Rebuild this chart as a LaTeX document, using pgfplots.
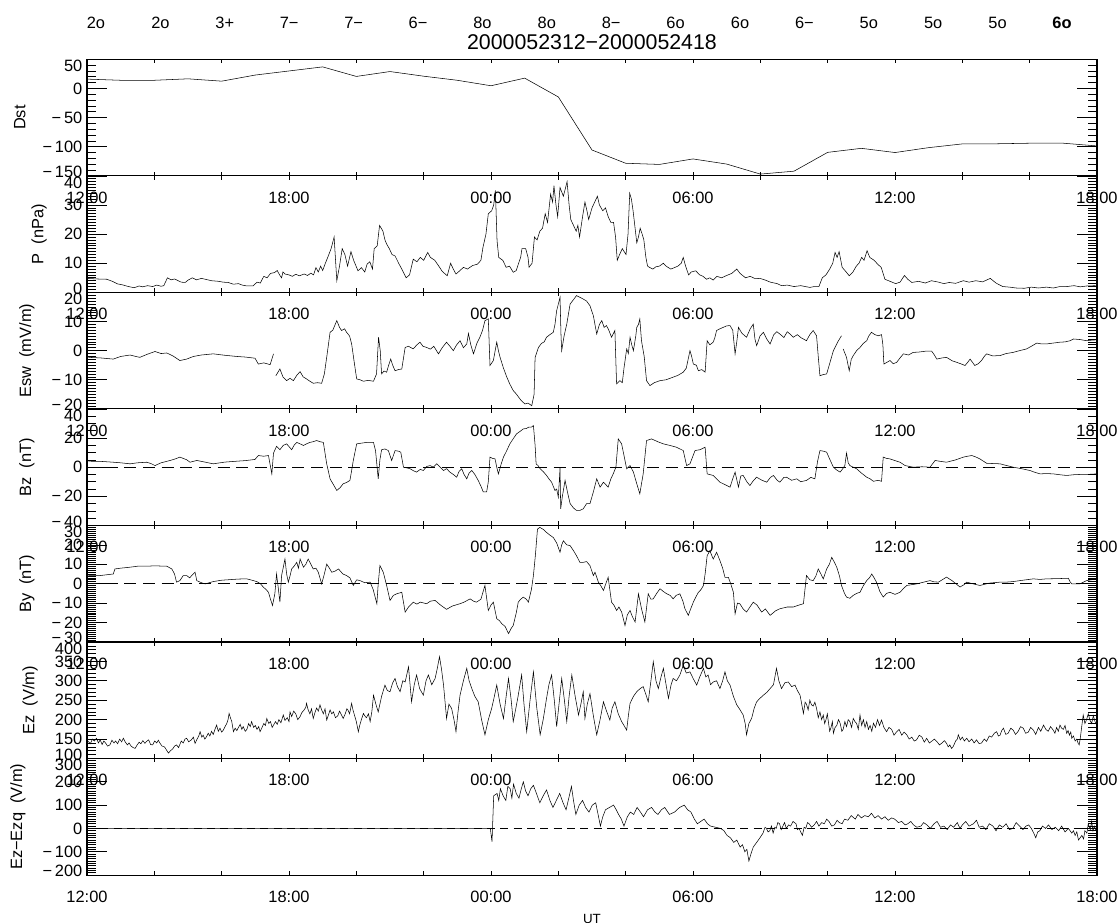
\documentclass[border=0pt]{standalone}
\usepackage{fontspec}
\setmainfont{Liberation Sans}
\usepackage{pgfplots}
\pgfplotsset{compat=1.18}
\newcommand{\fs}{\fontsize{12.3}{14}\selectfont}
\newcommand{\tl}[1]{\raisebox{-5pt}[\height][\depth]{#1}}
\newcommand{\bl}[1]{\raisebox{3pt}[\height][\depth]{#1}}
\pgfplotsset{
 panel/.style={
  width=757.5pt, height=87.4pt, scale only axis,
  anchor=north west,
  xmin=0, xmax=30,
  xtick={0,6,...,30},
  xticklabels={12:00,18:00,00:00,06:00,12:00,18:00},
  minor x tick num=2,
  tick align=inside,
  xtick pos=both, ytick pos=both,
  axis line style={line width=0.8pt},
  tick style={black, line width=0.5pt},
  major tick length=15pt, minor tick length=7pt,
  xtick style={/pgfplots/major tick length=3pt,/pgfplots/minor tick length=3pt},
  tick label style={font=\fs, text=black},
  label style={font=\fs},
  ylabel style={yshift=6pt},
  xticklabel style={yshift=-8.5pt},
  /pgf/number format/assume math mode=true,
  cycle list={{black, mark=none, line width=0.6pt}},
  unbounded coords=jump,
 },
 zero/.style={dash pattern=on 9pt off 5pt, line width=0.5pt, black, mark=none},
}
\begin{document}
\begin{tikzpicture}
\path[use as bounding box] (0,0) rectangle (840pt,-691.5pt);
% ---------- Dst
\begin{axis}[panel, at={(65.25pt,-44.475pt)},
 ymin=-150, ymax=50, ytick={-150,-100,-50,0,50},
 yticklabels={\bl{−\,150},−\,100,−\,50,0,\tl{50}}, minor y tick num=4, ylabel={Dst}]
\addplot coordinates {(0,16)(1,14)(2,14)(3,16.5)(4,12.5)(5,23)(6,30)(7,37)(8,20.6)(9,29)(10,21)(11,14)(12,4.6)(13,17.7)(14,-14.6)(15,-105.7)(16,-128.4)(17,-130.4)(18,-121)(19,-129.8)(20,-147)(21,-142)(22,-109.7)(23,-102.8)(24,-110)(25,-101.6)(26,-95.2)(27,-95)(28,-94)(29,-94)(30,-98.7)};
\end{axis}
% ---------- P
\begin{axis}[panel, at={(65.25pt,-131.87pt)},
 ymin=0, ymax=40, ytick={0,10,20,30,40}, yticklabels={\bl{0},10,20,30,\tl{40}}, minor y tick num=9, ylabel={P\ \ (nPa)}]
\addplot coordinates {(0,4.8)(0.3,4.6)(0.59,4.5)(0.75,3.8)(0.91,2.9)(1.05,2.6)(1.23,2.0)(1.4,1.6)(1.55,2.2)(1.65,1.9)(1.8,2.3)(1.95,2.0)(2.07,2.5)(2.2,2.1)(2.28,2.3)(2.39,5.0)(2.5,4.3)(2.6,4.6)(2.71,4.0)(2.8,3.5)(2.92,3.4)(3.0,4.2)(3.13,5.0)(3.25,4.3)(3.4,4.8)(3.55,4.4)(3.7,4.0)(3.9,3.8)(4.05,3.5)(4.19,3.4)(4.35,2.8)(4.5,3.0)(4.61,2.5)(4.75,2.2)(4.93,2.2)(5.05,3.5)(5.15,3.2)(5.25,5.5)(5.35,5.0)(5.45,6.5)(5.57,6.8)(5.65,7.5)(5.72,6.0)(5.78,5)(5.82,7.0)(5.88,6.3)(6.0,6.0)(6.1,5.5)(6.2,6.2)(6.31,5.7)(6.45,6.3)(6.55,5.8)(6.65,6.6)(6.73,6.0)(6.8,8.5)(6.87,7)(6.94,9)(7.0,7.5)(7.08,10)(7.15,12)(7.25,15)(7.34,19)(7.42,4)(7.5,9)(7.58,15)(7.66,13)(7.74,9)(7.84,14)(7.92,11)(8.05,7.4)(8.15,8.5)(8.25,7.0)(8.32,9.7)(8.4,10.5)(8.48,8)(8.53,15)(8.62,16)(8.69,23)(8.79,21)(8.85,18)(8.9,16.6)(8.98,15)(9.06,13)(9.15,12.5)(9.27,9.7)(9.35,8)(9.48,5)(9.58,6)(9.69,11.4)(9.8,10.5)(9.9,12)(10.0,11.0)(10.12,13.7)(10.2,12)(10.33,11)(10.45,9)(10.54,7.4)(10.62,6.5)(10.7,5.7)(10.8,10)(10.88,8)(10.96,6.3)(11.08,7.5)(11.18,8.6)(11.3,8.0)(11.45,9.2)(11.6,9.7)(11.7,11)(11.76,15.4)(11.85,20)(11.92,27)(12.02,28)(12.08,30)(12.13,35)(12.18,17.7)(12.23,12)(12.35,11)(12.45,8.6)(12.55,9)(12.66,6.9)(12.75,7.5)(12.82,10)(12.88,12)(12.92,15)(13.03,15)(13.1,12)(13.13,8.6)(13.22,10)(13.29,19)(13.37,18)(13.45,21)(13.53,22)(13.61,27)(13.68,24)(13.77,33.7)(13.83,31)(13.87,36.6)(13.93,30)(13.98,26)(14.05,36)(14.15,33)(14.26,38)(14.32,30)(14.37,25)(14.45,23)(14.53,21)(14.58,23)(14.63,19)(14.72,26)(14.79,31)(14.85,28)(14.9,25)(15.0,29)(15.08,31)(15.16,33)(15.22,30)(15.32,28)(15.4,29)(15.48,26)(15.56,24)(15.64,24)(15.7,19)(15.75,11)(15.82,13)(15.9,15)(16.01,13)(16.07,20)(16.12,34)(16.17,32)(16.22,28)(16.28,22)(16.33,17)(16.38,19)(16.43,22)(16.49,20)(16.54,18)(16.6,12)(16.65,9)(16.72,8.5)(16.81,8)(16.9,8.8)(17.0,9)(17.12,10)(17.2,9)(17.34,8)(17.45,8.5)(17.55,9)(17.65,10)(17.71,12)(17.78,9)(17.87,6)(17.95,7)(18.08,7.4)(18.2,6)(18.3,5.5)(18.4,4.5)(18.5,5)(18.6,4.2)(18.71,5.5)(18.85,5)(19.0,5.8)(19.15,6.5)(19.3,8)(19.4,6.5)(19.56,5)(19.7,5.5)(19.85,4.7)(19.99,4.8)(20.15,4.2)(20.3,3.5)(20.5,3)(20.63,2.3)(20.8,2.5)(21.0,2.0)(21.2,2.3)(21.47,1.7)(21.6,2.0)(21.74,2)(21.84,5)(21.95,6)(22.06,8)(22.15,10)(22.22,13.7)(22.28,12)(22.34,14)(22.43,8.6)(22.55,7)(22.64,5.7)(22.75,7)(22.85,9)(22.93,10)(23.01,12)(23.08,11)(23.17,14.3)(23.25,12)(23.38,11)(23.5,9.5)(23.59,8.6)(23.7,4.5)(23.85,3.8)(24.02,3)(24.15,3.5)(24.28,5.8)(24.38,4.5)(24.5,3.4)(24.7,3.8)(24.9,3.2)(25.08,4)(25.3,3.5)(25.45,3.0)(25.61,3.4)(25.8,3.1)(26.03,4)(26.2,3.5)(26.4,4.0)(26.6,3.6)(26.83,4.8)(27.0,3.2)(27.2,2)(27.4,1.8)(27.6,1.5)(27.84,1.4)(28.05,1.8)(28.26,1.5)(28.5,1.8)(28.7,1.5)(28.9,2)(29.1,2.0)(29.32,2.3)(29.5,1.9)(29.7,2.2)(29.96,2.3)};
\end{axis}
% ---------- Esw
\begin{axis}[panel, at={(65.25pt,-219.27pt)},
 ymin=-20, ymax=20, ytick={-20,-10,0,10,20}, yticklabels={\bl{−\,20},−\,10,0,10,\tl{20}},
 minor y tick num=9, ylabel={Esw\ \ (mV/m)}]
\addplot coordinates {(0.04,-2.3)(0.4,-2.5)(0.78,-2.9)(1.0,-2.0)(1.28,-1.5)(1.45,-2.0)(1.57,-2.3)(1.8,-1.2)(2.02,-0.3)(2.2,-1.0)(2.37,-0.8)(2.55,-1.8)(2.76,-3.4)(2.96,-2.9)(3.16,-2.0)(3.4,-1.5)(3.75,-1.1)(4.1,-1.6)(4.45,-2.0)(4.7,-2.2)(4.99,-2.6)(5.09,-4.6)(5.25,-4.2)(5.44,-4.8)(5.54,-1.1)(5.57,nan)(5.61,-8.6)(5.73,-6.3)(5.82,-9)(5.93,-10.3)(6.03,-9.5)(6.13,-10.3)(6.23,-8.5)(6.33,-7.2)(6.42,-9)(6.52,-9.7)(6.62,-10.5)(6.72,-11.2)(6.85,-11.0)(6.97,-11.2)(7.05,-8)(7.12,-2.3)(7.22,6.3)(7.3,7)(7.42,10.3)(7.5,8)(7.56,6.9)(7.65,7.5)(7.71,6.3)(7.8,5)(7.86,2.3)(7.95,-5)(8.01,-9.7)(8.11,-10)(8.21,-10.5)(8.35,-10.2)(8.51,-10.5)(8.6,-8)(8.66,4.6)(8.71,0)(8.75,-8)(8.82,-7.0)(8.90,-7.4)(8.96,-5)(9.02,-2.9)(9.08,-5)(9.15,-6.9)(9.25,-6.5)(9.35,-6.3)(9.45,1.1)(9.55,1.5)(9.69,0.6)(9.8,2.0)(9.89,2.9)(9.98,1.5)(10.09,1.1)(10.2,0.5)(10.3,1.5)(10.44,-1.1)(10.55,1.0)(10.68,2.9)(10.78,1.5)(10.88,0)(10.98,2.0)(11.08,3.4)(11.18,1.0)(11.28,2.3)(11.33,5.9)(11.4,2)(11.48,-1.1)(11.58,2.5)(11.67,4.6)(11.75,7)(11.82,10.3)(11.92,10.9)(11.97,-5.1)(12.07,-3.4)(12.17,2.9)(12.22,0)(12.27,-2.3)(12.37,-6)(12.47,-9.1)(12.56,-11.5)(12.66,-13.7)(12.76,-15)(12.86,-16.6)(12.93,-17.5)(13.01,-18.3)(13.1,-18.0)(13.21,-18.9)(13.28,-15)(13.31,-2.3)(13.41,1.1)(13.5,2.5)(13.58,3.0)(13.65,4.6)(13.75,5.5)(13.85,6.3)(13.9,9)(13.95,13.7)(14.05,18.3)(14.08,5)(14.1,0)(14.17,5)(14.25,9.1)(14.35,16)(14.45,17.5)(14.54,18.9)(14.64,18.3)(14.74,17.7)(14.84,17.0)(14.94,15.4)(15.04,12)(15.14,5.7)(15.22,9)(15.29,10.3)(15.36,8.0)(15.43,8.6)(15.5,7)(15.58,4.6)(15.68,6.9)(15.73,-11.4)(15.83,-10.3)(15.9,-11.0)(15.95,-6)(16.03,0.6)(16.08,-1)(16.13,4.6)(16.18,2)(16.23,0)(16.3,5)(16.33,8)(16.38,9)(16.42,10.9)(16.47,3.4)(16.55,-2)(16.62,-10.3)(16.72,-12)(16.85,-11.0)(17.02,-10.3)(17.2,-10)(17.41,-9.1)(17.55,-8.5)(17.71,-7.4)(17.8,-6)(17.91,0)(17.96,-2)(18.01,-4.6)(18.1,-5)(18.16,-6.9)(18.26,-6.5)(18.36,-7.4)(18.42,3.4)(18.5,2)(18.6,2.9)(18.65,4.5)(18.7,6.9)(18.8,7.5)(18.9,8)(19.0,8.5)(19.1,8.6)(19.18,7)(19.25,-1.1)(19.3,3)(19.35,8)(19.45,6)(19.59,4.6)(19.7,7.5)(19.79,9.1)(19.84,4)(19.89,1.7)(19.99,5)(20.09,6.3)(20.19,4)(20.29,2.3)(20.4,5.5)(20.49,6.5)(20.58,5.7)(20.7,4.5)(20.8,6.5)(20.9,5.5)(20.98,4.6)(21.1,5.5)(21.2,4.5)(21.37,3.4)(21.47,5.5)(21.57,6.9)(21.67,5.1)(21.72,-2)(21.77,-8.6)(21.87,-8.2)(21.97,-8)(22.07,-4)(22.17,0)(22.3,3)(22.41,5.1)(22.44,nan)(22.46,0.6)(22.56,-2.3)(22.64,-6.9)(22.7,-3)(22.76,-1.7)(22.86,0)(22.96,1.1)(23.06,2.5)(23.16,3.4)(23.22,5)(23.3,6.3)(23.4,5.5)(23.5,5.1)(23.6,5.5)(23.64,2)(23.67,-4.6)(23.76,-4)(23.85,-3.4)(23.95,-4.5)(24.05,-4)(24.15,-2.5)(24.25,-1.1)(24.4,-1.5)(24.54,-0.6)(24.7,-0.5)(24.9,-0.2)(25.09,-0.2)(25.17,-1.5)(25.24,-2.9)(25.4,-2.5)(25.53,-2.3)(25.7,-3.5)(25.83,-4)(25.95,-4.5)(26.08,-5.1)(26.16,-4)(26.23,-2.9)(26.3,-4)(26.37,-5.1)(26.47,-4.5)(26.57,-3.4)(26.65,-2)(26.72,-1.1)(26.9,-1.8)(27.12,-1.7)(27.3,-1.0)(27.51,-0.6)(27.7,0.0)(27.91,0.6)(28.05,1.5)(28.21,2.6)(28.35,2.3)(28.5,2.3)(28.7,2.6)(28.9,2.9)(29.05,3.0)(29.2,3.4)(29.3,4)(29.5,3.8)(29.69,3.4)(29.85,3.6)(29.99,3.7)};
\end{axis}
% ---------- Bz
\begin{axis}[panel, at={(65.25pt,-306.67pt)},
 ymin=-40, ymax=40, ytick={-40,-20,0,20,40}, yticklabels={\bl{−\,40},−\,20,0,20,\tl{40}},
 minor y tick num=3, ylabel={Bz\ \ (nT)}]
\addplot[zero] coordinates {(0,0)(30,0)};
\addplot coordinates {(0.04,4.1)(0.4,4.0)(0.78,3.4)(1.0,3.0)(1.28,2.3)(1.5,3.0)(1.77,3.4)(1.9,2.5)(2.02,1.1)(2.2,3.0)(2.47,4.6)(2.6,5.5)(2.76,6.9)(2.96,5.1)(3.06,3.4)(3.26,4.6)(3.5,3.5)(3.75,2.3)(4.1,3.5)(4.45,4.1)(4.7,4.5)(4.99,5.3)(5.09,8)(5.25,7.5)(5.39,8)(5.49,-4.6)(5.54,9.7)(5.63,14.3)(5.73,12)(5.83,15)(5.93,16)(6.08,12)(6.15,15)(6.23,17)(6.33,16)(6.43,14.9)(6.52,16)(6.62,17)(6.72,17.5)(6.82,18.3)(6.92,17.5)(7.02,17)(7.12,2.3)(7.22,-8)(7.32,-12)(7.42,-16)(7.52,-14)(7.61,-11.4)(7.71,-10.5)(7.81,-9.1)(7.91,4.6)(8.01,16)(8.15,16.5)(8.31,17)(8.51,17)(8.57,11.4)(8.65,-8)(8.7,5)(8.75,12)(8.85,12.5)(8.95,11.4)(9.05,4.6)(9.1,8)(9.15,11.4)(9.25,11)(9.32,10.3)(9.40,0)(9.5,-0.5)(9.60,-1.1)(9.7,-2.5)(9.79,-3.4)(9.9,-1.5)(9.99,-2.3)(10.09,0.5)(10.19,1.1)(10.29,0)(10.39,2.3)(10.49,0)(10.59,-2.3)(10.68,-1)(10.78,-3.4)(10.88,-5)(10.98,-6.9)(11.05,-3)(11.13,-1.1)(11.2,-5)(11.28,-8)(11.35,-4)(11.43,-2.3)(11.52,-5)(11.62,-9.1)(11.7,-13)(11.77,-17)(11.87,-17)(11.92,-10)(11.97,6.9)(12.05,6)(12.12,5.7)(12.17,0)(12.22,-4.6)(12.3,2)(12.37,6.9)(12.46,11)(12.56,16)(12.66,19.5)(12.76,22.9)(12.86,24.5)(12.96,26.3)(13.05,26.5)(13.11,27.4)(13.2,27.5)(13.26,28.6)(13.31,15)(13.34,2.3)(13.4,1)(13.46,-1.1)(13.55,-3)(13.65,-5.7)(13.72,-8)(13.80,-10.3)(13.90,-16)(13.95,-15)(14.0,-20.6)(14.04,-5)(14.05,0)(14.07,-28.6)(14.12,-20)(14.2,-9.1)(14.28,-18)(14.35,-25)(14.45,-28)(14.54,-29.7)(14.64,-29.7)(14.74,-28.6)(14.84,-25)(14.94,-25)(15.04,-17)(15.14,-8)(15.24,-13.7)(15.34,-10.3)(15.41,-12)(15.48,-13.7)(15.56,-8)(15.63,-4.6)(15.71,0)(15.78,19.4)(15.88,16)(15.95,8)(16.03,-1.1)(16.13,1.1)(16.23,-3.4)(16.33,-11.4)(16.42,-18.3)(16.52,-4.6)(16.62,18.3)(16.77,19.4)(16.95,17.5)(17.12,16)(17.3,15)(17.51,13.7)(17.71,11.4)(17.81,1.1)(17.91,2.3)(18.06,11.4)(18.21,12)(18.36,13.7)(18.42,-4.6)(18.6,-5.7)(18.7,-8)(18.8,-10.3)(18.95,-12)(19.1,-13.7)(19.18,-8)(19.25,-3.4)(19.35,-13.7)(19.42,-6)(19.49,-5.7)(19.6,-10)(19.69,-12.6)(19.8,-9)(19.89,-6.9)(20.05,-9)(20.19,-10.3)(20.3,-7)(20.39,-5.7)(20.5,-9)(20.58,-10.3)(20.7,-7)(20.78,-6.9)(20.93,-9)(21.08,-8)(21.2,-10)(21.37,-9.1)(21.5,-7)(21.62,-8)(21.7,4)(21.77,11.4)(21.87,11)(21.97,10.3)(22.07,5)(22.17,0)(22.27,-2)(22.37,-3.4)(22.45,-1)(22.51,1.1)(22.56,9.7)(22.61,3)(22.66,1.1)(22.76,0)(22.86,-1.1)(23.0,-4)(23.16,-6.9)(23.26,-8)(23.36,-9.7)(23.5,-9)(23.6,-9.7)(23.65,6.9)(23.75,6)(23.85,5.7)(24.0,4.5)(24.15,3.4)(24.3,1.1)(24.54,0)(24.8,0.3)(25.04,0)(25.19,4.6)(25.35,4)(25.53,3.4)(25.8,5)(26.03,6.9)(26.15,7.5)(26.28,8)(26.4,7)(26.52,5.7)(26.72,2.7)(26.9,2.5)(27.12,2.3)(27.3,1.2)(27.51,0)(27.75,-1)(28.01,-2.3)(28.15,-3.5)(28.31,-4.6)(28.5,-4.4)(28.7,-4.6)(28.9,-5.2)(29.1,-5.7)(29.3,-5.2)(29.49,-5)(29.7,-5)(29.99,-4.6)};
\end{axis}
% ---------- By
\begin{axis}[panel, at={(65.25pt,-394.07pt)},
 ymin=-30, ymax=30, ytick={-30,-20,-10,0,10,20,30}, yticklabels={\bl{−\,30},−\,20,−\,10,0,10,20,\tl{30}},
 minor y tick num=9, ylabel={By\ \ (nT)}]
\addplot[zero] coordinates {(0,0)(30,0)};
\addplot coordinates {(0.04,4.2)(0.39,4.2)(0.78,5)(0.83,7.6)(1.0,8)(1.28,8.5)(1.5,9)(1.77,9)(2.0,9.2)(2.37,9)(2.52,7.6)(2.6,5)(2.66,0.8)(2.76,1.6)(2.86,4.2)(2.96,4.2)(3.05,3)(3.11,4.2)(3.21,5.9)(3.26,1.6)(3.4,0.5)(3.51,-0.1)(3.75,1.1)(4.0,1.8)(4.25,2.1)(4.5,2.4)(4.74,2.5)(4.9,1.8)(5.04,1.1)(5.15,0)(5.24,-1.8)(5.32,-3)(5.39,-4.4)(5.45,-8)(5.51,-11.2)(5.58,-5.2)(5.63,5)(5.68,-2)(5.73,-9.5)(5.78,4.2)(5.88,12.7)(5.93,5)(5.98,0.8)(6.03,4)(6.08,7.6)(6.15,9)(6.23,11)(6.28,8)(6.33,12.7)(6.43,8.5)(6.5,10)(6.57,12.7)(6.65,10)(6.72,7.6)(6.8,8)(6.87,5.9)(6.97,-0.1)(7.05,5)(7.12,10.1)(7.2,8)(7.27,5.9)(7.37,6.5)(7.47,7.6)(7.6,5)(7.71,4.2)(7.81,3)(7.91,-0.9)(8.01,2)(8.11,1.6)(8.25,0.5)(8.41,0.8)(8.5,-3)(8.61,-10.3)(8.65,0)(8.70,9.3)(8.80,5.9)(8.90,-0.9)(9.0,-8.6)(9.1,-6)(9.2,-5.2)(9.35,-4.4)(9.45,-14.6)(9.55,-12)(9.69,-9.5)(9.8,-10.5)(9.9,-9.5)(10.09,-10.3)(10.2,-9.0)(10.34,-8.6)(10.5,-11)(10.68,-13.2)(10.85,-11.5)(11.08,-10.3)(11.2,-9.5)(11.38,-7.8)(11.48,-9)(11.57,-9.5)(11.7,-8)(11.82,-0.9)(11.92,-13.8)(12.0,-11)(12.07,-9.5)(12.17,-18)(12.25,-19)(12.32,-20.6)(12.42,-22)(12.52,-25.7)(12.6,-23)(12.66,-21.5)(12.75,-15)(12.81,-9.5)(12.88,-8)(12.96,-6.9)(13.05,-8)(13.11,-9.5)(13.2,-3)(13.26,4.2)(13.32,15)(13.38,28.1)(13.45,29)(13.55,28)(13.65,26.4)(13.75,25)(13.85,23.8)(13.95,21)(14.05,16.2)(14.1,20)(14.15,22.1)(14.25,20)(14.35,19.6)(14.45,17)(14.54,14.4)(14.64,11)(14.74,11)(14.84,11.4)(14.94,9.3)(15.04,4.2)(15.09,5.9)(15.19,0.8)(15.26,-1)(15.34,-3.5)(15.41,0)(15.48,3.3)(15.58,-9.5)(15.65,-11)(15.73,-13.8)(15.8,-12)(15.88,-14.6)(15.93,-18)(15.98,-21.5)(16.05,-16)(16.13,-13.8)(16.2,-17)(16.28,-19.7)(16.38,-5.2)(16.47,-12.9)(16.57,-19.7)(16.67,-5.2)(16.75,-8)(16.82,-7.8)(16.92,-5)(17.02,-2.6)(17.12,-4)(17.22,-5.2)(17.32,-6)(17.41,-7.8)(17.5,-6)(17.61,-5.2)(17.7,-9)(17.76,-12.9)(17.86,-16.3)(17.93,-13)(18.01,-9.5)(18.08,-7)(18.16,-4.4)(18.24,-3)(18.31,-0.9)(18.36,5)(18.42,14.4)(18.5,17)(18.6,12.7)(18.7,16.2)(18.8,11.9)(18.88,8)(18.95,3.3)(19.05,3.3)(19.12,0)(19.2,-4.4)(19.25,-15.5)(19.32,-10)(19.39,-10.3)(19.49,-13)(19.59,-14.6)(19.69,-12)(19.79,-9.5)(19.9,-11)(20.04,-14.6)(20.15,-13)(20.29,-16.3)(20.45,-14)(20.58,-12.9)(20.8,-12)(20.98,-12)(21.15,-11)(21.28,-10.3)(21.37,4.2)(21.47,2)(21.57,1.6)(21.65,4)(21.72,7.6)(21.8,5)(21.87,2.5)(21.97,7.6)(22.05,10)(22.12,13.6)(22.2,11)(22.27,8.5)(22.35,4)(22.41,-0.9)(22.5,-5)(22.56,-6.9)(22.66,-7.5)(22.76,-6)(22.86,-5)(22.96,-4.4)(23.06,-1)(23.16,1.6)(23.24,3)(23.31,5)(23.38,3)(23.45,0.8)(23.55,-4)(23.65,-6.9)(23.75,-5)(23.85,-4.4)(24.0,-5.5)(24.15,-4.4)(24.25,-2.5)(24.35,-0.9)(24.5,-0.5)(24.64,-0.1)(24.85,0.8)(25.04,1.6)(25.15,1.0)(25.29,0.8)(25.4,2.0)(25.53,3.4)(25.7,1.5)(25.93,-1.7)(26.05,-0.5)(26.13,0.8)(26.3,0)(26.52,-0.9)(26.8,0.3)(27.12,0.8)(27.3,0.8)(27.51,1.1)(27.8,1.8)(28.11,2.5)(28.3,2.2)(28.5,2.5)(28.8,2.6)(29.15,2.8)(29.2,1)(29.25,-0.1)(29.49,-0.1)(29.69,1.6)(29.99,2.5)};
\end{axis}
% ---------- Ez
\begin{axis}[panel, at={(65.25pt,-481.46pt)},
 ymin=100, ymax=400, ytick={100,150,...,400}, yticklabels={\bl{100},150,200,250,300,350,\tl{400}}, minor y tick num=4, ylabel={Ez\ \ (V/m)}]
\addplot coordinates {(0.04,144)(0.1,138)(0.16,150)(0.22,145)(0.28,152)(0.34,140)(0.39,148)(0.45,136)(0.5,145)(0.55,140)(0.61,132)(0.68,135)(0.74,147)(0.8,140)(0.85,145)(0.91,138)(0.97,150)(1.03,143)(1.08,152)(1.14,142)(1.2,135)(1.25,140)(1.31,132)(1.37,128)(1.43,126)(1.49,135)(1.55,142)(1.6,138)(1.66,146)(1.72,139)(1.77,144)(1.83,148)(1.89,136)(1.95,135)(2.01,145)(2.07,140)(2.12,147)(2.17,139)(2.23,132)(2.3,130)(2.36,122)(2.42,114)(2.48,120)(2.55,125)(2.6,132)(2.66,135)(2.72,128)(2.8,145)(2.86,140)(2.91,150)(2.96,152)(3.02,143)(3.1,148)(3.16,155)(3.21,139)(3.27,150)(3.32,158)(3.36,169)(3.41,155)(3.45,160)(3.5,150)(3.55,156)(3.6,165)(3.65,158)(3.7,170)(3.75,162)(3.8,175)(3.85,186)(3.9,170)(3.95,178)(4.0,168)(4.05,173)(4.1,182)(4.15,190)(4.19,200)(4.22,216)(4.26,205)(4.3,195)(4.35,169)(4.4,178)(4.45,172)(4.5,180)(4.55,188)(4.6,175)(4.64,182)(4.7,170)(4.75,175)(4.8,190)(4.85,182)(4.89,195)(4.95,180)(5.0,185)(5.05,175)(5.1,182)(5.14,169)(5.2,180)(5.25,190)(5.3,185)(5.34,203)(5.4,190)(5.45,195)(5.5,180)(5.54,186)(5.6,195)(5.65,188)(5.7,200)(5.76,192)(5.83,212)(5.88,198)(5.95,205)(6.0,195)(6.03,220)(6.08,208)(6.14,222)(6.2,215)(6.26,200)(6.33,208)(6.38,218)(6.45,225)(6.5,232)(6.52,242)(6.57,225)(6.62,215)(6.67,228)(6.72,203)(6.77,218)(6.82,230)(6.87,222)(6.92,238)(6.97,225)(7.02,215)(7.07,228)(7.12,199)(7.17,212)(7.22,225)(7.27,215)(7.32,220)(7.38,205)(7.45,210)(7.5,222)(7.56,212)(7.61,203)(7.67,215)(7.72,228)(7.75,225)(7.8,215)(7.86,242)(7.9,225)(7.95,210)(8.0,195)(8.06,169)(8.1,185)(8.15,200)(8.21,216)(8.25,210)(8.3,205)(8.36,215)(8.41,195)(8.46,220)(8.51,263)(8.58,240)(8.65,220)(8.75,260)(8.85,289)(8.92,275)(9.0,272)(9.08,295)(9.15,306)(9.22,285)(9.30,272)(9.38,300)(9.45,297)(9.55,336)(9.64,246)(9.72,290)(9.79,315)(9.88,280)(9.99,263)(10.07,300)(10.14,315)(10.24,290)(10.34,306)(10.4,330)(10.47,362)(10.53,330)(10.59,289)(10.68,203)(10.75,240)(10.83,229)(10.9,200)(10.96,169)(11.02,220)(11.08,263)(11.18,300)(11.28,332)(11.35,300)(11.43,280)(11.52,260)(11.62,246)(11.72,200)(11.82,161)(11.92,200)(12.02,229)(12.1,260)(12.17,289)(12.27,240)(12.37,203)(12.45,260)(12.52,306)(12.6,250)(12.66,195)(12.74,230)(12.81,263)(12.91,315)(12.98,240)(13.06,169)(13.16,250)(13.26,323)(13.36,230)(13.46,161)(13.55,200)(13.65,255)(13.72,290)(13.80,315)(13.88,250)(13.95,182)(14.02,240)(14.1,306)(14.18,250)(14.25,195)(14.32,260)(14.4,315)(14.5,260)(14.6,212)(14.67,240)(14.74,272)(14.79,203)(14.86,240)(14.94,267)(15.04,210)(15.14,161)(15.24,200)(15.34,246)(15.44,220)(15.53,199)(15.6,230)(15.68,246)(15.78,215)(15.88,195)(15.95,185)(16.03,173)(16.08,210)(16.13,242)(16.23,260)(16.33,272)(16.43,280)(16.52,285)(16.6,265)(16.67,246)(16.75,300)(16.82,349)(16.9,300)(16.97,280)(17.05,310)(17.12,332)(17.2,290)(17.27,255)(17.35,290)(17.41,306)(17.51,300)(17.61,315)(17.71,340)(17.8,320)(17.91,323)(18.01,305)(18.11,289)(18.2,310)(18.31,332)(18.38,310)(18.45,315)(18.52,290)(18.6,297)(18.7,300)(18.8,280)(18.88,300)(18.95,323)(19.02,300)(19.1,289)(19.2,260)(19.3,238)(19.4,225)(19.49,212)(19.55,190)(19.59,161)(19.66,190)(19.74,203)(19.82,230)(19.89,246)(19.99,255)(20.09,263)(20.19,270)(20.29,280)(20.39,290)(20.48,332)(20.55,300)(20.63,280)(20.73,295)(20.83,297)(20.93,285)(21.03,289)(21.1,275)(21.18,263)(21.28,216)(21.33,245)(21.37,240)(21.42,225)(21.47,250)(21.52,238)(21.57,235)(21.62,245)(21.67,229)(21.72,205)(21.77,220)(21.82,200)(21.87,212)(21.91,190)(21.95,200)(21.99,215)(22.02,195)(22.06,170)(22.1,180)(22.14,195)(22.17,165)(22.22,180)(22.27,185)(22.32,200)(22.37,191)(22.42,170)(22.46,175)(22.51,195)(22.56,182)(22.61,200)(22.66,195)(22.71,180)(22.76,203)(22.81,195)(22.86,190)(22.91,175)(22.96,212)(23.01,185)(23.06,200)(23.11,180)(23.16,195)(23.21,175)(23.26,185)(23.31,170)(23.36,191)(23.42,180)(23.48,200)(23.54,185)(23.6,199)(23.67,180)(23.75,169)(23.82,180)(23.9,175)(23.97,160)(24.05,169)(24.12,175)(24.2,160)(24.27,168)(24.35,161)(24.42,150)(24.5,155)(24.57,145)(24.64,148)(24.72,160)(24.8,155)(24.87,142)(24.94,152)(25.02,140)(25.1,145)(25.17,150)(25.24,144)(25.32,135)(25.4,140)(25.47,146)(25.53,139)(25.58,130)(25.63,135)(25.68,126)(25.73,131)(25.8,145)(25.85,150)(25.88,161)(25.94,148)(26.0,155)(26.06,145)(26.13,152)(26.2,143)(26.28,150)(26.35,140)(26.42,148)(26.5,138)(26.57,140)(26.65,150)(26.72,144)(26.8,158)(26.87,155)(26.95,165)(27.02,169)(27.07,158)(27.12,160)(27.17,172)(27.22,178)(27.29,162)(27.36,165)(27.44,178)(27.51,173)(27.58,162)(27.66,170)(27.73,182)(27.81,178)(27.88,165)(27.96,168)(28.03,180)(28.11,173)(28.18,162)(28.26,180)(28.33,170)(28.41,186)(28.48,175)(28.55,170)(28.62,182)(28.7,173)(28.75,165)(28.8,180)(28.85,170)(28.9,186)(28.95,178)(29.0,175)(29.05,185)(29.1,165)(29.14,172)(29.18,160)(29.22,168)(29.25,152)(29.3,158)(29.35,145)(29.4,150)(29.44,139)(29.47,135)(29.5,150)(29.55,185)(29.59,212)(29.64,190)(29.69,200)(29.74,215)(29.79,199)(29.84,190)(29.89,210)(29.94,195)(29.99,186)};
\end{axis}
% ---------- Ez-Ezq
\begin{axis}[panel, at={(65.25pt,-568.86pt)},
 ymin=-200, ymax=300, ytick={-200,-100,0,100,200,300}, yticklabels={\bl{−\,200},−\,100,0,100,200,\tl{300}},
 minor y tick num=9, ylabel={Ez−Ezq\ \ (V/m)},
 xlabel={UT}, xlabel style={at={(axis description cs:0.5,0)}, anchor=center, yshift=-33pt, font=\fontsize{10}{12}\selectfont}]
\addplot[zero, dash pattern=on 6pt off 4pt] coordinates {(0,0)(30,0)};
\addplot coordinates {(0,0)(11.98,0)(12.03,-57)(12.08,140)(12.18,150)(12.23,120)(12.28,170)(12.36,140)(12.44,120)(12.5,180)(12.57,170)(12.62,130)(12.67,190)(12.75,150)(12.83,130)(12.9,170)(12.96,200)(13.03,160)(13.1,140)(13.18,170)(13.26,185)(13.35,150)(13.45,110)(13.55,140)(13.65,165)(13.75,120)(13.84,90)(13.94,120)(14.04,150)(14.14,110)(14.23,80)(14.31,130)(14.39,180)(14.45,120)(14.52,60)(14.62,100)(14.72,120)(14.81,90)(14.91,70)(15.01,100)(15.11,110)(15.18,60)(15.25,10)(15.32,50)(15.4,80)(15.52,90)(15.64,100)(15.72,80)(15.79,60)(15.87,40)(15.95,10)(16.05,50)(16.14,70)(16.24,60)(16.34,90)(16.44,70)(16.53,50)(16.65,80)(16.77,90)(16.87,70)(16.96,60)(17.06,80)(17.16,90)(17.3,60)(17.45,70)(17.6,90)(17.74,100)(17.84,80)(17.94,70)(18.04,40)(18.13,20)(18.23,30)(18.33,40)(18.43,20)(18.52,10)(18.67,5)(18.82,0)(18.92,-10)(19.01,-30)(19.11,-40)(19.21,-60)(19.3,-50)(19.4,-80)(19.47,-70)(19.54,-100)(19.6,-90)(19.66,-140)(19.72,-110)(19.79,-80)(19.89,-60)(19.99,-40)(20.08,-20)(20.14,5)(20.18,0)(20.23,-15)(20.28,-10)(20.33,10)(20.38,-20)(20.43,5)(20.47,0)(20.52,25)(20.57,20)(20.62,-5)(20.67,10)(20.72,25)(20.77,0)(20.84,15)(20.9,10)(20.97,30)(21.06,20)(21.1,-5)(21.15,0)(21.2,-15)(21.25,-30)(21.3,5)(21.35,0)(21.4,25)(21.45,20)(21.52,5)(21.6,15)(21.67,30)(21.74,10)(21.82,25)(21.9,20)(21.97,40)(22.04,30)(22.12,10)(22.2,15)(22.28,35)(22.35,25)(22.43,20)(22.5,40)(22.6,35)(22.7,55)(22.82,40)(22.9,60)(23.0,45)(23.1,55)(23.21,50)(23.3,65)(23.4,45)(23.5,55)(23.6,40)(23.7,50)(23.8,35)(23.9,45)(23.99,40)(24.1,25)(24.2,30)(24.3,15)(24.38,20)(24.47,30)(24.55,15)(24.65,5)(24.77,10)(24.85,25)(24.95,15)(25.05,0)(25.16,20)(25.25,30)(25.35,5)(25.45,10)(25.55,-5)(25.65,15)(25.74,5)(25.85,25)(25.93,0)(26.0,15)(26.1,30)(26.2,10)(26.33,20)(26.42,35)(26.5,5)(26.6,10)(26.7,-5)(26.8,20)(26.91,10)(27.0,-10)(27.1,15)(27.2,5)(27.3,20)(27.4,-5)(27.5,0)(27.6,25)(27.7,10)(27.8,-5)(27.89,10)(27.97,15)(28.05,0)(28.12,-20)(28.18,-40)(28.24,-15)(28.3,-10)(28.38,10)(28.47,0)(28.56,15)(28.66,-5)(28.76,5)(28.86,-10)(28.95,10)(29.05,-15)(29.15,0)(29.25,-20)(29.3,-10)(29.35,-30)(29.4,-15)(29.45,-50)(29.5,-40)(29.55,-30)(29.6,-45)(29.64,-10)(29.7,-20)(29.74,20)(29.8,-5)(29.84,30)(29.88,-10)(29.92,10)(29.96,-5)(30,0)};
\end{axis}
% ---------- Kp row and title
\begin{scope}[every node/.style={font=\fs, inner sep=0pt}]
\foreach \k [count=\i from 0] in {2o,2o,3+,7−,7−,6−,8o,8o,8−,6o,6o,6−,5o,5o,5o}
  \node at ({72pt+48.3pt*\i},-17.25pt) {\k};
\node[font=\fs\bfseries] at ({72pt+48.3pt*15},-17.25pt) {6o};
\node[font=\fontsize{16}{18}\selectfont] at (444pt,-31.5pt) {2000052312−2000052418};
\end{scope}
\end{tikzpicture}
\end{document}
